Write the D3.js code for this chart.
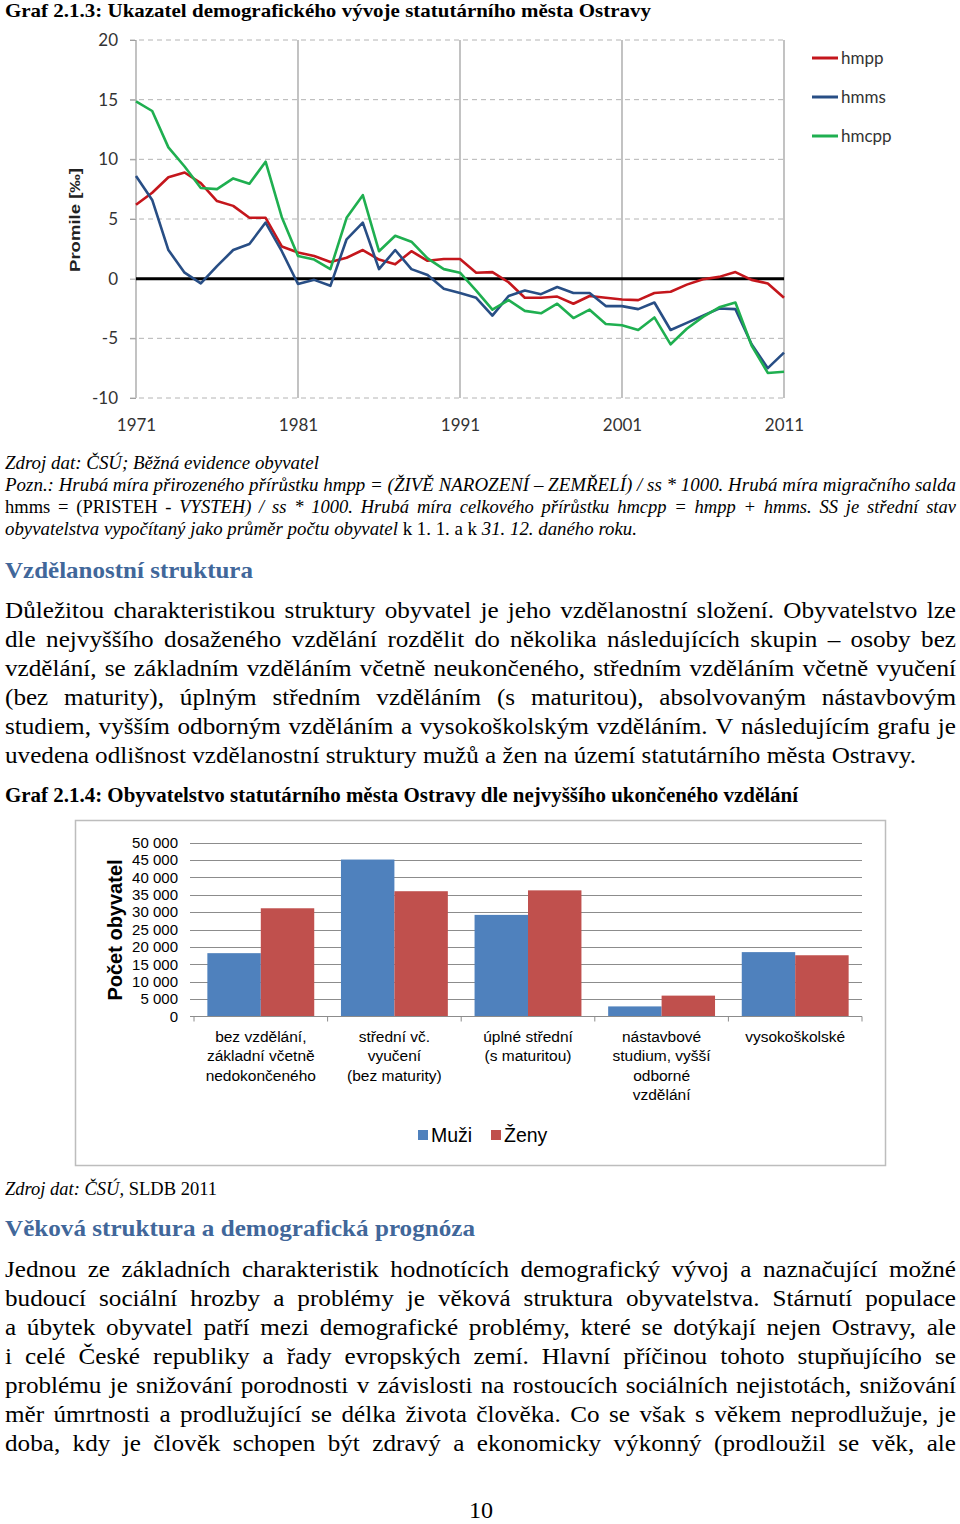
<!DOCTYPE html>
<html><head><meta charset="utf-8">
<script src="https://cdn.jsdelivr.net/npm/d3@7/dist/d3.min.js"></script>
<style>body{margin:0;background:#fff} svg{display:block}</style>
</head><body>
<svg id="page" width="960" height="1524"></svg>
<script>
// ---------- DATA: Graf 2.1.3 ----------
const years = [1971,1972,1973,1974,1975,1976,1977,1978,1979,1980,1981,1982,1983,1984,1985,1986,1987,1988,1989,1990,1991,1992,1993,1994,1995,1996,1997,1998,1999,2000,2001,2002,2003,2004,2005,2006,2007,2008,2009,2010,2011];
const hmpp  = [6.2,7.2,8.5,8.9,8.0,6.5,6.1,5.1,5.1,2.7,2.2,1.9,1.4,1.75,2.4,1.6,1.2,2.3,1.5,1.65,1.65,0.5,0.55,-0.3,-1.6,-1.6,-1.5,-2.1,-1.45,-1.6,-1.75,-1.8,-1.2,-1.1,-0.5,-0.05,0.15,0.55,-0.1,-0.4,-1.6];
const hmms  = [8.6,6.6,2.4,0.5,-0.4,1.05,2.4,2.9,4.7,2.3,-0.45,-0.1,-0.6,3.3,4.7,0.8,2.4,0.8,0.3,-0.85,-1.2,-1.6,-3.1,-1.45,-1.0,-1.3,-0.7,-1.2,-1.2,-2.3,-2.3,-2.55,-2.0,-4.3,-3.7,-3.1,-2.5,-2.55,-5.5,-7.5,-6.2];
const hmcpp = [14.85,14.05,11.0,9.4,7.6,7.5,8.4,7.95,9.8,5.15,1.9,1.6,0.8,5.1,7.0,2.3,3.6,3.1,1.7,0.8,0.5,-1.0,-2.6,-1.8,-2.7,-2.9,-2.1,-3.3,-2.6,-3.8,-3.9,-4.3,-3.25,-5.5,-4.2,-3.2,-2.4,-2.0,-5.6,-7.9,-7.8];
const seriesNames = ["hmpp","hmms","hmcpp"];
const seriesColors = ["#c4161c","#284e85","#1faf50"];
const yTicks1 = [-10,-5,0,5,10,15,20];
const xTicks1 = [1971,1981,1991,2001,2011];
const yTitle1 = "Promile [‰]";

// ---------- DATA: Graf 2.1.4 ----------
const eduCategories = [
  ["bez vzdělání,","základní včetně","nedokončeného"],
  ["střední vč.","vyučení","(bez maturity)"],
  ["úplné střední","(s maturitou)"],
  ["nástavbové","studium, vyšší","odborné","vzdělání"],
  ["vysokoškolské"]
];
const muzi = [18200,45100,29200,2900,18500];
const zeny = [31100,36000,36250,6000,17600];
const sexes = ["Muži","Ženy"];
const sexColors = ["#4f81bd","#c0504d"];
const yTicks2 = [0,5000,10000,15000,20000,25000,30000,35000,40000,45000,50000];
const yTitle2 = "Počet obyvatel";

// ---------- TEXT ----------
const title1 = "Graf 2.1.3: Ukazatel demografického vývoje statutárního města Ostravy";
const title2 = "Graf 2.1.4: Obyvatelstvo statutárního města Ostravy dle nejvyššího ukončeného vzdělání";
const notes = [
  [["Zdroj dat: ČSÚ; Běžná evidence obyvatel","i"]],
  [["Pozn.: Hrubá míra přirozeného přírůstku hmpp = (ŽIVĚ NAROZENÍ – ZEMŘELÍ) / ss * 1000. Hrubá míra migračního salda","i"]],
  [["hmms = (PRISTEH -",""],["VYSTEH) / ss * 1000. Hrubá míra celkového přírůstku hmcpp = hmpp + hmms. SS je střední stav","i"]],
  [["obyvatelstva vypočítaný jako průměr počtu obyvatel","i"],["k 1. 1. a k",""],["31. 12. daného roku.","i"]]
];
const heading1 = "Vzdělanostní struktura";
const para1 = [
  "Důležitou charakteristikou struktury obyvatel je jeho vzdělanostní složení. Obyvatelstvo lze",
  "dle nejvyššího dosaženého vzdělání rozdělit do několika následujících skupin – osoby bez",
  "vzdělání, se základním vzděláním včetně neukončeného, středním vzděláním včetně vyučení",
  "(bez maturity), úplným středním vzděláním (s maturitou), absolvovaným nástavbovým",
  "studiem, vyšším odborným vzděláním a vysokoškolským vzděláním. V následujícím grafu je",
  "uvedena odlišnost vzdělanostní struktury mužů a žen na území statutárního města Ostravy."
];
const source2 = [["Zdroj dat: ČSÚ,","i"],["SLDB 2011",""]];
const heading2 = "Věková struktura a demografická prognóza";
const para2 = [
  "Jednou ze základních charakteristik hodnotících demografický vývoj a naznačující možné",
  "budoucí sociální hrozby a problémy je věková struktura obyvatelstva. Stárnutí populace",
  "a úbytek obyvatel patří mezi demografické problémy, které se dotýkají nejen Ostravy, ale",
  "i celé České republiky a řady evropských zemí. Hlavní příčinou tohoto stupňujícího se",
  "problému je snižování porodnosti v závislosti na rostoucích sociálních nejistotách, snižování",
  "měr úmrtnosti a prodlužující se délka života člověka. Co se však s věkem neprodlužuje, je",
  "doba, kdy je člověk schopen být zdravý a ekonomicky výkonný (prodloužil se věk, ale"
];
const pageNumber = "10";

const SERIF = "'Liberation Serif','Times New Roman',serif";
const SANS = "'Liberation Sans',Arial,sans-serif";
const CAL = "Lato,'Liberation Sans',sans-serif";

const svg = d3.select("#page");
svg.append("rect").attr("width",960).attr("height",1524).attr("fill","#fff");

function drawLine(parent, segs, o) {
  const g = parent.append("g");
  const t = g.append("text").attr("font-family", o.family || SERIF).attr("font-size", o.size).attr("fill", o.fill || "#000");
  const words = [];
  segs.forEach(([txt, st]) => txt.split(" ").filter(w => w.length).forEach(w => words.push({w, st})));
  const spans = words.map(d => t.append("tspan")
    .attr("font-style", d.st.includes("i") ? "italic" : "normal")
    .attr("font-weight", d.st.includes("b") ? "bold" : "normal").text(d.w));
  const ws = spans.map(s => s.node().getComputedTextLength());
  const space = o.size * (o.space || 0.25);
  const sum = d3.sum(ws);
  let sx, gap;
  if (o.justify) {
    sx = o.sx; gap = (o.width / sx - sum) / (words.length - 1);
    if (gap < space * 0.8) { gap = space * 0.8; sx = o.width / (sum + gap * (words.length - 1)); }
  } else {
    gap = space;
    const nat = sum + gap * (words.length - 1);
    sx = o.width ? o.width / nat : (o.sx || 1);
  }
  let cx = 0;
  spans.forEach((s, i) => { s.attr("x", cx); cx += ws[i] + gap; });
  let x0 = o.x;
  if (o.anchor === "middle") x0 = o.x - (cx - gap) * sx / 2;
  g.attr("transform", `translate(${x0},${o.y}) scale(${sx},1)`);
  return sx;
}

// ---------- titles & texts ----------
drawLine(svg, [[title1,"b"]], {x:5, y:17, size:18.5, width:646});
const noteY = [469,491,513,535];
const noteW = [314,951,951,632];
notes.forEach((segs, i) => {
  drawLine(svg, segs, {x:5, y:noteY[i], size:19, width:noteW[i], space: i===2 ? 0.42 : 0.25});
});
drawLine(svg, [[heading1,"b"]], {x:5, y:578, size:24, width:248, fill:"#41679a"});
const p1y = [618,647,676,705,734,763];
const sxPara = drawLine(svg, [[para1[5],""]], {x:5, y:p1y[5], size:24, width:911});
para1.slice(0,5).forEach((l,i) => drawLine(svg, [[l,""]], {x:5, y:p1y[i], size:24, width:951, justify:true, sx:sxPara}));
drawLine(svg, [[title2,"b"]], {x:5, y:802, size:20.5, width:793});
drawLine(svg, source2, {x:5, y:1195, size:19, width:212});
drawLine(svg, [[heading2,"b"]], {x:5, y:1236, size:24, width:470, fill:"#41679a"});
const p2y = [1277,1306,1335,1364,1393,1422,1451];
para2.forEach((l,i) => drawLine(svg, [[l,""]], {x:5, y:p2y[i], size:24, width:951, justify:true, sx:sxPara}));
drawLine(svg, [[pageNumber,""]], {x:481, y:1518, size:23, anchor:"middle", sx:sxPara});

// ---------- CHART 1 ----------
const c1 = svg.append("g");
const x1 = d3.scaleLinear().domain([1971, 2011]).range([136, 784]);
const y1 = d3.scaleLinear().domain([-10, 20]).range([398, 40]);

c1.append("g").selectAll("line").data(yTicks1.filter(d => d !== 0)).join("line")
  .attr("x1", 130).attr("x2", x1(2011)).attr("y1", d => y1(d)).attr("y2", d => y1(d))
  .attr("stroke", "#b4b4b4").attr("stroke-width", 1).attr("stroke-dasharray", "5,4");
c1.append("g").selectAll("line").data(xTicks1).join("line")
  .attr("x1", d => x1(d)).attr("x2", d => x1(d)).attr("y1", y1(20)).attr("y2", y1(-10))
  .attr("stroke", "#9a9a9a").attr("stroke-width", 1.2);
const ay1 = c1.append("g").attr("transform", `translate(${x1(1971)},0)`)
  .call(d3.axisLeft(y1).tickValues(yTicks1).tickSize(6).tickPadding(12).tickFormat(d => String(d)));
ay1.select(".domain").remove();
ay1.selectAll(".tick line").attr("stroke", "#a0a0a0");
ay1.selectAll("text").attr("font-family", CAL).attr("font-size", 17).attr("fill", "#333");
const ax1 = c1.append("g").attr("transform", `translate(0,${y1(-10)})`)
  .call(d3.axisBottom(x1).tickValues(xTicks1).tickSize(0).tickPadding(21).tickFormat(d => String(d)));
ax1.select(".domain").remove();
ax1.selectAll("text").attr("font-family", CAL).attr("font-size", 17).attr("fill", "#333");
c1.append("line").attr("x1", x1(1971)).attr("x2", x1(2011)).attr("y1", y1(0)).attr("y2", y1(0))
  .attr("stroke", "#000").attr("stroke-width", 3);
const series1 = [hmpp, hmms, hmcpp];
const line1 = d3.line().x((d, i) => x1(years[i])).y(d => y1(d));
series1.forEach((s, k) => {
  c1.append("path").datum(s).attr("d", line1).attr("fill", "none")
    .attr("stroke", seriesColors[k]).attr("stroke-width", 2.6).attr("stroke-linejoin", "round");
});
const lg1 = c1.append("g");
seriesNames.forEach((n, k) => {
  const yy = 58 + k * 39;
  lg1.append("line").attr("x1", 812).attr("x2", 838).attr("y1", yy).attr("y2", yy)
    .attr("stroke", seriesColors[k]).attr("stroke-width", 3);
  lg1.append("text").attr("x", 841).attr("y", yy).attr("dy", "0.35em")
    .attr("font-family", CAL).attr("font-size", 17).attr("fill", "#333").text(n);
});
c1.append("text").attr("transform", `translate(80,220) rotate(-90)`)
  .attr("text-anchor", "middle").attr("font-family", SANS).attr("font-weight", "bold")
  .attr("font-size", 15).attr("fill", "#222").attr("textLength", 104).attr("lengthAdjust", "spacingAndGlyphs")
  .text(yTitle1);

// ---------- CHART 2 ----------
const c2 = svg.append("g");
c2.append("rect").attr("x", 75.5).attr("y", 820.5).attr("width", 810).attr("height", 345)
  .attr("fill", "#fff").attr("stroke", "#bdbdbd").attr("stroke-width", 1.5);
const x2 = d3.scaleBand().domain(d3.range(eduCategories.length)).range([194, 862]).padding(0);
const xs2 = d3.scaleBand().domain(sexes).range([0, x2.bandwidth()]).paddingInner(0).paddingOuter(0.25);
const y2 = d3.scaleLinear().domain([0, 50000]).range([1016.5, 842.5]);
const fmt = d3.formatLocale({decimal: ",", thousands: " ", grouping: [3], currency: ["", ""]}).format(",d");

c2.append("g").selectAll("line").data(yTicks2.filter(d => d > 0)).join("line")
  .attr("x1", 190).attr("x2", 862).attr("y1", d => Math.round(y2(d)) + 0.5).attr("y2", d => Math.round(y2(d)) + 0.5)
  .attr("stroke", "#8c8c8c").attr("stroke-width", 1);
const ay2 = c2.append("g").attr("transform", `translate(190,0)`)
  .call(d3.axisLeft(y2).tickValues(yTicks2).tickSize(0).tickPadding(12).tickFormat(fmt));
ay2.select(".domain").remove();
ay2.selectAll("text").attr("font-family", SANS).attr("font-size", 15).attr("fill", "#000");

const groups = c2.append("g").selectAll("g").data(eduCategories.map((c, i) => i)).join("g")
  .attr("transform", i => `translate(${x2(i)},0)`);
groups.selectAll("rect").data(i => [muzi[i], zeny[i]].map((v, k) => ({v, k}))).join("rect")
  .attr("x", d => xs2(sexes[d.k])).attr("width", xs2.bandwidth())
  .attr("y", d => y2(d.v)).attr("height", d => y2(0) - y2(d.v))
  .attr("fill", d => sexColors[d.k]);

const ax2 = c2.append("g").attr("transform", `translate(0,${y2(0)})`);
ax2.append("line").attr("x1", 190).attr("x2", 862).attr("stroke", "#8c8c8c").attr("stroke-width", 1.2);
const bounds = eduCategories.map((c, i) => x2(i)).concat([x2.range()[1]]);
ax2.selectAll(".tk").data(bounds).join("line").attr("class", "tk")
  .attr("x1", d => d).attr("x2", d => d).attr("y1", 0).attr("y2", 5).attr("stroke", "#8c8c8c");
const labs = c2.append("g").selectAll("text").data(eduCategories).join("text")
  .attr("x", (d, i) => x2(i) + x2.bandwidth() / 2).attr("y", 1042)
  .attr("text-anchor", "middle").attr("font-family", SANS).attr("font-size", 15.5).attr("fill", "#000");
labs.selectAll("tspan").data(d => d).join("tspan")
  .attr("x", function() { return this.parentNode.getAttribute("x"); })
  .attr("dy", (d, i) => i === 0 ? 0 : 19.3).text(d => d);

c2.append("text").attr("transform", `translate(122,930) rotate(-90)`)
  .attr("text-anchor", "middle").attr("font-family", SANS).attr("font-weight", "bold")
  .attr("font-size", 20).attr("fill", "#000").text(yTitle2);

const lg2 = c2.append("g");
const legX = [418, 491];
sexes.forEach((s, k) => {
  lg2.append("rect").attr("x", legX[k]).attr("y", 1130).attr("width", 10).attr("height", 10).attr("fill", sexColors[k]);
  lg2.append("text").attr("x", legX[k] + 13).attr("y", 1142).attr("font-family", SANS)
    .attr("font-size", 19.5).attr("fill", "#000").text(s);
});
</script>
</body></html>
